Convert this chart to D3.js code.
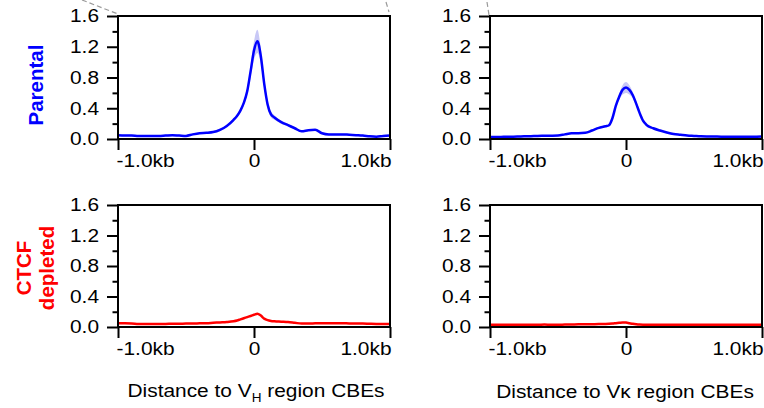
<!DOCTYPE html>
<html lang="en">
<head>
  <meta charset="utf-8">
  <title>CTCF profiles at V region CBEs</title>
  <script src="https://cdnjs.cloudflare.com/ajax/libs/d3/7.8.5/d3.min.js"></script>
  <style type="text/css">
	body {
		margin: 0;
		background: #fff;
	}
	svg text {
		font-family: Arial, "Liberation Sans", sans-serif;
		fill: #000;
	}
	.axis line {
		stroke: #000;
		stroke-width: 2px;
	}
	.axis text {
		font-size: 18.5px;
	}
  </style>
</head>
<body>
<svg id="chart" width="764" height="408"></svg>
<script>
// distance to the CBE, bp
var positions = [-1000, -950, -900, -850, -800, -750, -700, -650, -600, -550, -500, -450, -400, -350, -300, -250, -200, -150,
	-125, -100, -75, -50, -25, 0, 25, 50, 75, 100, 125, 150,
	200, 250, 300, 350, 400, 450, 500, 550, 600, 650, 700, 750, 800, 850, 900, 950, 1000];

// VH, parental
var vhParental = [0.05, 0.045, 0.045, 0.04, 0.04, 0.04, 0.04, 0.045, 0.05, 0.045, 0.04, 0.06, 0.075, 0.08, 0.09, 0.12, 0.17, 0.25,
	0.30, 0.37, 0.47, 0.62, 0.88, 1.15, 1.27, 1.08, 0.72, 0.45, 0.32, 0.28,
	0.22, 0.18, 0.14, 0.10, 0.115, 0.12, 0.075, 0.06, 0.06, 0.06, 0.055, 0.05, 0.045, 0.035, 0.03, 0.04, 0.045];
var vhParentalErr = [0.01, 0.01, 0.01, 0.01, 0.01, 0.01, 0.01, 0.01, 0.01, 0.01, 0.01, 0.01, 0.01, 0.01, 0.01, 0.015, 0.015, 0.02,
	0.02, 0.025, 0.03, 0.05, 0.08, 0.12, 0.15, 0.1, 0.06, 0.05, 0.04, 0.03,
	0.02, 0.015, 0.015, 0.01, 0.01, 0.01, 0.01, 0.01, 0.01, 0.01, 0.01, 0.01, 0.01, 0.01, 0.01, 0.01, 0.01];

// VK, parental
var vkParental = [0.025, 0.025, 0.028, 0.03, 0.032, 0.035, 0.037, 0.04, 0.042, 0.043, 0.045, 0.06, 0.075, 0.075, 0.08, 0.11, 0.145, 0.165,
	0.18, 0.27, 0.43, 0.55, 0.64, 0.67, 0.64, 0.57, 0.46, 0.34, 0.24, 0.185,
	0.14, 0.11, 0.085, 0.065, 0.055, 0.045, 0.04, 0.035, 0.033, 0.032, 0.03, 0.03, 0.03, 0.028, 0.028, 0.03, 0.033];
var vkParentalErr = [0.008, 0.008, 0.008, 0.008, 0.008, 0.008, 0.008, 0.008, 0.008, 0.008, 0.008, 0.008, 0.008, 0.008, 0.008, 0.01, 0.01, 0.01,
	0.012, 0.015, 0.025, 0.04, 0.06, 0.07, 0.06, 0.04, 0.03, 0.02, 0.015, 0.012,
	0.01, 0.01, 0.008, 0.008, 0.008, 0.008, 0.008, 0.008, 0.008, 0.008, 0.008, 0.008, 0.008, 0.008, 0.008, 0.008, 0.008];

// VH, CTCF depleted
var vhDepleted = [0.05, 0.048, 0.045, 0.04, 0.038, 0.04, 0.04, 0.04, 0.042, 0.042, 0.045, 0.045, 0.048, 0.05, 0.055, 0.06, 0.065, 0.075,
	0.085, 0.1, 0.115, 0.13, 0.145, 0.16, 0.175, 0.15, 0.11, 0.09, 0.08, 0.075,
	0.07, 0.065, 0.055, 0.045, 0.045, 0.048, 0.05, 0.048, 0.05, 0.05, 0.046, 0.045, 0.045, 0.042, 0.04, 0.04, 0.04];

// VK, CTCF depleted
var vkDepleted = [0.03, 0.03, 0.028, 0.03, 0.03, 0.028, 0.03, 0.03, 0.032, 0.03, 0.03, 0.032, 0.033, 0.035, 0.035, 0.036, 0.038, 0.04,
	0.042, 0.045, 0.05, 0.055, 0.06, 0.058, 0.05, 0.042, 0.036, 0.032, 0.03, 0.03,
	0.03, 0.03, 0.028, 0.028, 0.03, 0.03, 0.028, 0.028, 0.03, 0.03, 0.028, 0.028, 0.03, 0.028, 0.028, 0.03, 0.03];

var yTicks = [0, 0.4, 0.8, 1.2, 1.6];
var yMinorTicks = [0.2, 0.6, 1.0, 1.4];
var xTicks = [-1000, 0, 1000];
var xTickLabels = ["-1.0kb", "0", "1.0kb"];

var svg = d3.select("#chart");

var cols = [[118, 390], [490, 762]];
var rows = [[16, 139], [205, 327]];

// the figure's font is a bit wider than Arial
var k = 1.13;
function widen(sel) {
	sel.each(function() {
		var t = d3.select(this);
		t.attr("x", (+t.attr("x") || 0) / k)
			.attr("dx", (+t.attr("dx") || 0) / k)
			.attr("transform", "scale(" + k + ",1)");
	});
}

var panels = [
	{ col: 0, row: 0, values: vhParental, err: vhParentalErr, color: "#0000ff", band: "#c8c8f6" },
	{ col: 1, row: 0, values: vkParental, err: vkParentalErr, color: "#0000ff", band: "#c8c8f6" },
	{ col: 0, row: 1, values: vhDepleted, err: null, color: "#ff0000" },
	{ col: 1, row: 1, values: vkDepleted, err: null, color: "#ff0000" }
];

panels.forEach(function(p) {
	var x = d3.scaleLinear().domain([-1000, 1000]).range(cols[p.col]);
	var y = d3.scaleLinear().domain([0, 1.6]).range([rows[p.row][1], rows[p.row][0]]);
	var g = svg.append("g");

	//error band
	if (p.err) {
		var area = d3.area()
			.x(function(d, i) { return x(positions[i]); })
			.y0(function(d, i) { return y(d - p.err[i]); })
			.y1(function(d, i) { return y(d + p.err[i]); })
			.curve(d3.curveMonotoneX);
		g.append("path")
			.datum(p.values)
			.attr("d", area)
			.attr("fill", p.band);
	}

	//profile line
	var line = d3.line()
		.x(function(d, i) { return x(positions[i]); })
		.y(function(d) { return y(d); })
		.curve(d3.curveMonotoneX);
	g.append("path")
		.datum(p.values)
		.attr("d", line)
		.attr("fill", "none")
		.attr("stroke", p.color)
		.attr("stroke-width", 2.5)
		.attr("stroke-linejoin", "round");

	//frame
	g.append("rect")
		.attr("x", cols[p.col][0])
		.attr("y", rows[p.row][0])
		.attr("width", cols[p.col][1] - cols[p.col][0])
		.attr("height", rows[p.row][1] - rows[p.row][0])
		.attr("fill", "none")
		.attr("stroke", "#000")
		.attr("stroke-width", 2);

	//y axis
	var yAxis = g.append("g")
		.attr("class", "axis")
		.attr("transform", "translate(" + cols[p.col][0] + ",0)")
		.call(d3.axisLeft(y).tickValues(yTicks).tickFormat(d3.format(".1f")).tickSize(11).tickPadding(8));
	yAxis.select(".domain").remove();
	widen(yAxis.selectAll("text"));

	var yMinor = g.append("g")
		.attr("class", "axis")
		.attr("transform", "translate(" + cols[p.col][0] + ",0)")
		.call(d3.axisLeft(y).tickValues(yMinorTicks).tickFormat("").tickSize(5.5));
	yMinor.select(".domain").remove();

	//x axis
	var xAxis = g.append("g")
		.attr("class", "axis")
		.attr("transform", "translate(0," + rows[p.row][1] + ")")
		.call(d3.axisBottom(x).tickValues(xTicks)
			.tickFormat(function(d, i) { return xTickLabels[i]; })
			.tickSize(11).tickPadding(4));
	xAxis.select(".domain").remove();
	xAxis.selectAll("text")
		.attr("text-anchor", function(d, i) { return i == 0 ? "start" : (i == 2 ? "end" : "middle"); })
		.attr("dx", function(d, i) { return i == 0 ? -2 : (i == 2 ? 1 : 0); });
	widen(xAxis.selectAll("text"));
});

//zoom guide lines at the top
var guides = [[82, 0, 118, 14], [386, 2, 389, 12], [487, 2, 489, 15]];
svg.selectAll(".guide").data(guides)
	.enter().append("line")
	.attr("class", "guide")
	.attr("x1", function(d) { return d[0]; })
	.attr("y1", function(d) { return d[1]; })
	.attr("x2", function(d) { return d[2]; })
	.attr("y2", function(d) { return d[3]; })
	.attr("stroke", "#9a9a9a")
	.attr("stroke-width", 1.2)
	.attr("stroke-dasharray", "5,3");

//row labels
svg.append("text")
	.attr("transform", "translate(43,85) rotate(-90)")
	.attr("text-anchor", "middle")
	.attr("font-weight", "bold")
	.style("font-size", "20.5px")
	.style("fill", "#0000ff")
	.text("Parental");

var ctcf = svg.append("text")
	.attr("transform", "translate(31,268) rotate(-90)")
	.attr("text-anchor", "middle")
	.attr("font-weight", "bold")
	.style("font-size", "20.5px")
	.style("fill", "#ff0000");
ctcf.append("tspan").attr("x", 0).attr("y", 0).text("CTCF");
ctcf.append("tspan").attr("x", 0).attr("y", 23).text("depleted");

//x titles
var t1 = svg.append("text")
	.attr("x", 256)
	.attr("y", 397)
	.attr("text-anchor", "middle")
	.style("font-size", "18.5px");
t1.append("tspan").text("Distance to V");
t1.append("tspan").attr("dy", 5).style("font-size", "12px").text("H");
t1.append("tspan").attr("dy", -5).text(" region CBEs");

var t2 = svg.append("text")
	.attr("x", 625)
	.attr("y", 398)
	.attr("text-anchor", "middle")
	.style("font-size", "18.5px")
	.text("Distance to V\u03ba region CBEs");

widen(t1);
widen(t2);
</script>
</body>
</html>
